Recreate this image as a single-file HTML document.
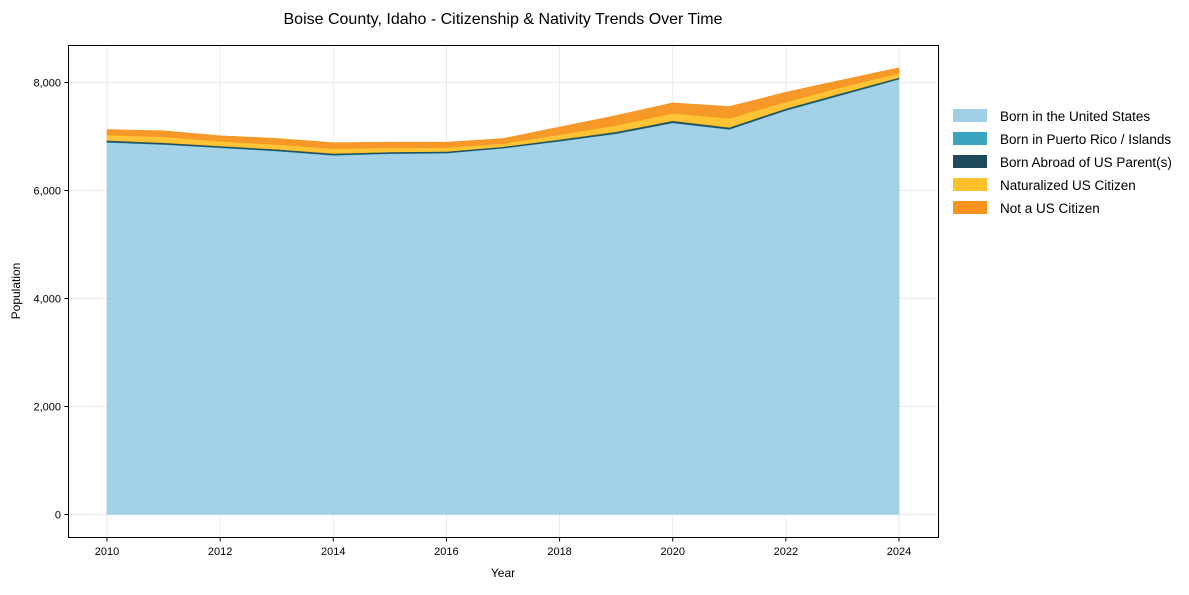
<!DOCTYPE html>
<html><head><meta charset="utf-8">
<style>
body{margin:0;background:#fff;font-family:"Liberation Sans",Arial,sans-serif;}
svg text{font-family:"Liberation Sans",Arial,sans-serif;}
</style></head>
<body>
<svg id="chart" width="1189" height="590" xmlns="http://www.w3.org/2000/svg">
<rect width="1189" height="590" fill="#fff"/>
<text x="503" y="24" text-anchor="middle" font-size="16" fill="#000">Boise County, Idaho - Citizenship &amp; Nativity Trends Over Time</text>
<g id="grid"></g>
<g id="areas"></g>
<rect x="68.5" y="45.5" width="870" height="492" fill="none" stroke="#000" stroke-width="1"/>
<g id="axes"></g>
<text x="503" y="577" text-anchor="middle" font-size="12">Year</text>
<text transform="translate(20,291) rotate(-90)" text-anchor="middle" font-size="12">Population</text>
<g id="legend"></g>
</svg>
<script>
const years = [2010,2011,2012,2013,2014,2015,2016,2017,2018,2019,2020,2021,2022,2023,2024];
const bornUS = [6890,6850,6790,6730,6650,6680,6690,6780,6910,7050,7250,7130,7480,7770,8060];
const bornPR = [8,8,8,8,8,8,8,8,8,8,8,8,8,8,8];
const bornAbroad = [30,28,26,26,28,26,26,24,28,30,34,32,32,30,25];
const naturalized = [100,110,90,90,90,80,70,60,90,120,140,170,120,110,80];
const notCitizen = [100,110,100,110,110,100,100,90,140,180,190,215,180,130,100];
const yTicks = [0,2000,4000,6000,8000];
const xTicks = [2010,2012,2014,2016,2018,2020,2022,2024];
const seriesNames = ["Born in the United States","Born in Puerto Rico / Islands","Born Abroad of US Parent(s)","Naturalized US Citizen","Not a US Citizen"];
const colors = ["#9ecfe6","#3aa3bd","#1f4a5c","#ffc12b","#f7931e"];

const NS="http://www.w3.org/2000/svg";
const xS = y => 107 + (y-2010)*(899-107)/14;
const yS = v => 514.5 - v*(514.5-82.5)/8000;
function mk(tag, attrs, parent){const e=document.createElementNS(NS,tag);for(const k in attrs)e.setAttribute(k,attrs[k]);parent.appendChild(e);return e;}
const grid=document.getElementById('grid'), axes=document.getElementById('axes'), areas=document.getElementById('areas'), legend=document.getElementById('legend');
yTicks.forEach(t=>{
  const l=mk('line',{x1:68.5,x2:938.5,y1:yS(t),y2:yS(t),stroke:'#e6e6e6','stroke-width':0.8},grid);
  
  
  const tk=mk('line',{x1:64.5,x2:68.5,y1:yS(t),y2:yS(t),stroke:'#000'},axes);
  
  
  const tx=mk('text',{x:61,y:yS(t)+4,'text-anchor':'end','font-size':11},axes);
  
  
  tx.textContent=t.toLocaleString('en-US');
});
xTicks.forEach(t=>{
  const l=mk('line',{x1:xS(t),x2:xS(t),y1:45.5,y2:537.5,stroke:'#e6e6e6','stroke-width':0.8},grid);
  
  
  const tk=mk('line',{x1:xS(t),x2:xS(t),y1:537.5,y2:541.5,stroke:'#000'},axes);
  
  
  const tx=mk('text',{x:xS(t),y:555,'text-anchor':'middle','font-size':11},axes);
  
  
  tx.textContent=t;
});
const series=[bornUS,bornPR,bornAbroad,naturalized,notCitizen];
let base=years.map(()=>0);
series.forEach((s,si)=>{
  const top=base.map((b,i)=>b+s[i]);
  let d='M'+years.map((y,i)=>xS(y)+','+yS(top[i])).join('L');
  for(let i=years.length-1;i>=0;i--) d+='L'+xS(years[i])+','+yS(base[i]);
  d+='Z';
  const p=mk('path',{d:d,fill:colors[si],'fill-opacity':0.95,stroke:colors[si],'stroke-width':0.6},areas);
  
  
  base=top;
});
seriesNames.forEach((n,i)=>{
  const y=116+i*23;
  const r=mk('rect',{x:953,y:y-7,width:34,height:13,fill:colors[i]},legend);
  
  
  const t=mk('text',{x:1000,y:y+5,'font-size':13.5},legend);
  
  
  t.textContent=n;
});
</script>
</body></html>
